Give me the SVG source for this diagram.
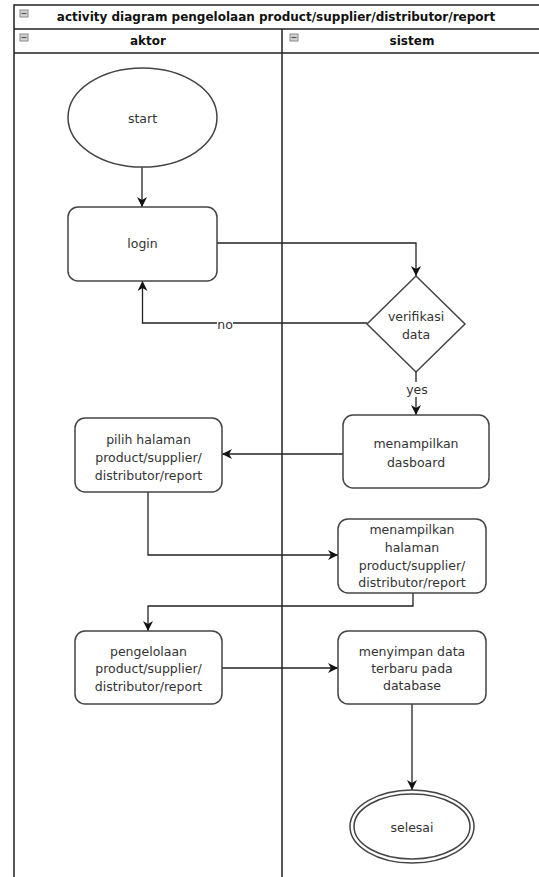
<svg xmlns="http://www.w3.org/2000/svg" width="539" height="877" viewBox="0 0 539 877">
<style>
.lane{fill:none;stroke:#222;stroke-width:1.5}
.node{fill:#fff;stroke:#444;stroke-width:1.5}
.t{font-family:"DejaVu Sans",Verdana,sans-serif;font-size:12.5px;fill:#333;text-anchor:middle;dominant-baseline:central}
.h{font-family:"DejaVu Sans",Verdana,sans-serif;font-size:12px;font-weight:bold;fill:#111;text-anchor:middle;dominant-baseline:central}
.c{fill:none;stroke:#222;stroke-width:1.3}
.ico{fill:#d4d4d4;stroke:#888;stroke-width:1}
.lbl{font-family:"DejaVu Sans",Verdana,sans-serif;font-size:12.5px;fill:#333;text-anchor:middle;dominant-baseline:central}
</style>
<defs>
<marker id="arr" viewBox="0 0 10 10" refX="10" refY="5" markerWidth="10" markerHeight="10" markerUnits="userSpaceOnUse" orient="auto">
<path d="M0,0 L10,5 L0,10 L3,5 z" fill="#111"/>
</marker>
</defs>
<rect width="539" height="877" fill="#fff"/>
<g id="pool">
<path class="lane" d="M14,877 V5 H541 M14,29 H541 M14,53 H541 M282,29 V877"/>
<rect class="ico" x="20" y="10" width="8" height="7"/>
<line x1="21.5" y1="13.5" x2="26.5" y2="13.5" stroke="#555" stroke-width="1.2"/>
<text class="h" x="276" y="17">activity diagram pengelolaan product/supplier/distributor/report</text>
</g>
<g id="lane-aktor">
<rect class="ico" x="20" y="34" width="8" height="7"/>
<line x1="21.5" y1="37.5" x2="26.5" y2="37.5" stroke="#555" stroke-width="1.2"/>
<text class="h" x="148" y="41">aktor</text>
</g>
<g id="lane-sistem">
<rect class="ico" x="290" y="34" width="8" height="7"/>
<line x1="291.5" y1="37.5" x2="296.5" y2="37.5" stroke="#555" stroke-width="1.2"/>
<text class="h" x="412" y="41">sistem</text>
</g>
<g id="connectors">
<path class="c" d="M142,167 V207" marker-end="url(#arr)"/>
<path class="c" d="M217,243 H416 V276" marker-end="url(#arr)"/>
<path class="c" d="M367,323 H142.5 V281" marker-end="url(#arr)"/>
<path class="c" d="M416,372 V415" marker-end="url(#arr)"/>
<path class="c" d="M343,454 H222" marker-end="url(#arr)"/>
<path class="c" d="M148,492 V555 H338" marker-end="url(#arr)"/>
<path class="c" d="M413,593 V606 H148 V631" marker-end="url(#arr)"/>
<path class="c" d="M222,668 H338" marker-end="url(#arr)"/>
<path class="c" d="M412,704 V790" marker-end="url(#arr)"/>
<rect x="217" y="318" width="16" height="13" fill="#fff"/>
<text class="lbl" x="225" y="324">no</text>
<rect x="406" y="382" width="22" height="15" fill="#fff"/>
<text class="lbl" x="417" y="389">yes</text>
</g>
<g id="start">
<ellipse class="node" cx="142.5" cy="117.5" rx="74.5" ry="49.5"/>
<text class="t" x="142.5" y="118">start</text>
</g>
<g id="login">
<rect class="node" x="68" y="207" width="149" height="74" rx="10"/>
<text class="t" x="142.5" y="243">login</text>
</g>
<g id="verifikasi">
<path class="node" d="M416,276 L465,324 L416,372 L367,324 Z"/>
<text class="t" x="416" y="316">verifikasi</text>
<text class="t" x="416" y="334">data</text>
</g>
<g id="dasboard">
<rect class="node" x="343" y="415" width="146" height="73" rx="10"/>
<text class="t" x="416" y="443">menampilkan</text>
<text class="t" x="416" y="462">dasboard</text>
</g>
<g id="pilih">
<rect class="node" x="75" y="418" width="147" height="74" rx="10"/>
<text class="t" x="148.5" y="439">pilih halaman</text>
<text class="t" x="148.5" y="457">product/supplier/</text>
<text class="t" x="148.5" y="475">distributor/report</text>
</g>
<g id="halaman">
<rect class="node" x="338" y="519" width="148" height="74" rx="10"/>
<text class="t" x="412" y="529">menampilkan</text>
<text class="t" x="412" y="547">halaman</text>
<text class="t" x="412" y="565">product/supplier/</text>
<text class="t" x="412" y="582">distributor/report</text>
</g>
<g id="pengelolaan">
<rect class="node" x="75" y="631" width="147" height="73" rx="10"/>
<text class="t" x="148.5" y="651">pengelolaan</text>
<text class="t" x="148.5" y="668">product/supplier/</text>
<text class="t" x="148.5" y="686">distributor/report</text>
</g>
<g id="menyimpan">
<rect class="node" x="338" y="631" width="148" height="73" rx="10"/>
<text class="t" x="412" y="651">menyimpan data</text>
<text class="t" x="412" y="668">terbaru pada</text>
<text class="t" x="412" y="685">database</text>
</g>
<g id="selesai">
<ellipse class="node" cx="412" cy="826.5" rx="62" ry="36.5"/>
<ellipse class="node" cx="412" cy="826.5" rx="58" ry="32.5"/>
<text class="t" x="412" y="827">selesai</text>
</g>
</svg>
